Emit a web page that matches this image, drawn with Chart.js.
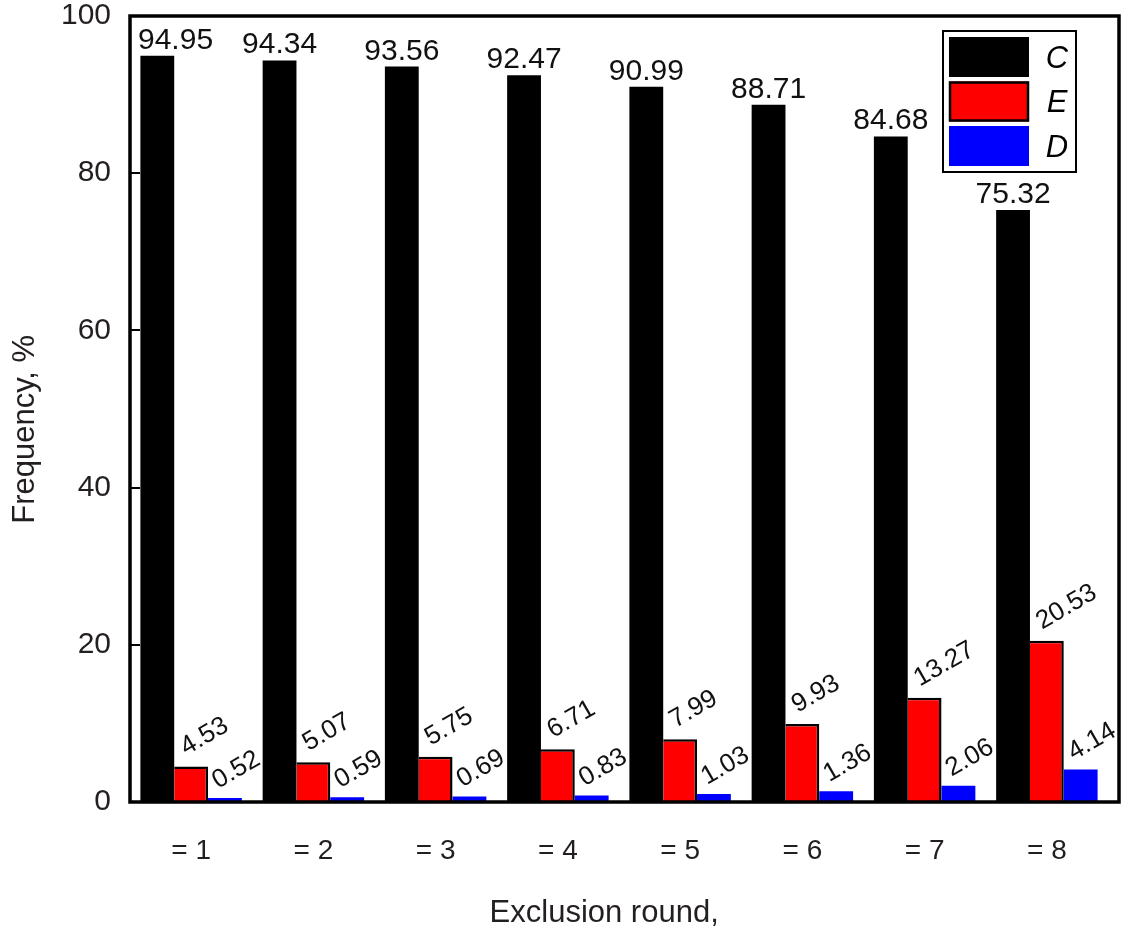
<!DOCTYPE html>
<html>
<head>
<meta charset="utf-8">
<script src="https://cdn.jsdelivr.net/npm/chart.js@4"></script>
<style>
html,body{margin:0;padding:0;background:#fff;}
#wrap{width:1124px;height:933px;position:relative;}
</style>
</head>
<body>
<div id="wrap"><canvas id="c" width="1124" height="933"></canvas></div>
<script>
const categories = ['= 1','= 2','= 3','= 4','= 5','= 6','= 7','= 8'];
const seriesC = [94.95, 94.34, 93.56, 92.47, 90.99, 88.71, 84.68, 75.32];
const seriesE = [4.53, 5.07, 5.75, 6.71, 7.99, 9.93, 13.27, 20.53];
const seriesD = [0.52, 0.59, 0.69, 0.83, 1.03, 1.36, 2.06, 4.14];
const seriesNames = ['C','E','D'];
const yTicks = [0, 20, 40, 60, 80, 100];

const FONT = '"Liberation Sans", Arial, sans-serif';
const TXT = '#231f20';

const decor = {
  id: 'decor',
  afterDatasetsDraw(chart) {
    const ctx = chart.ctx;
    const a = chart.chartArea;
    const ys = chart.scales.y;
    ctx.save();
    // inward y ticks
    ctx.strokeStyle = '#000';
    ctx.lineWidth = 2;
    yTicks.forEach(v => {
      const py = Math.round(ys.getPixelForValue(v));
      ctx.beginPath();
      ctx.moveTo(a.left, py);
      ctx.lineTo(a.left + 10, py);
      ctx.stroke();
    });
    // frame
    ctx.lineWidth = 3.5;
    ctx.strokeRect(a.left, a.top, a.right - a.left, a.bottom - a.top);
    // value labels
    ctx.fillStyle = '#111';
    chart.data.datasets.forEach((ds, di) => {
      const meta = chart.getDatasetMeta(di);
      meta.data.forEach((bar, i) => {
        const txt = ds.data[i].toFixed(2);
        if (di === 0) {
          ctx.font = '30px ' + FONT;
          const w = ctx.measureText(txt).width;
          const cx = Math.max(bar.x, a.left + 8 + w / 2);
          ctx.textAlign = 'center';
          ctx.textBaseline = 'alphabetic';
          ctx.fillText(txt, cx, bar.y - 7);
        } else {
          ctx.font = '26px ' + FONT;
          ctx.save();
          const dx = di === 1 ? 12 : 10;
          const dy = di === 1 ? 11 : 9;
          ctx.translate(bar.x - bar.width / 2 + dx, bar.y - dy);
          ctx.rotate(-Math.PI / 6);
          ctx.textAlign = 'left';
          ctx.textBaseline = 'alphabetic';
          ctx.fillText(txt, 0, 0);
          ctx.restore();
        }
      });
    });
    // legend box
    const lx = 943, ly = 31, lw = 133, lh = 141;
    ctx.fillStyle = '#fff';
    ctx.fillRect(lx, ly, lw, lh);
    ctx.lineWidth = 2;
    ctx.strokeStyle = '#000';
    ctx.strokeRect(lx, ly, lw, lh);
    chart.data.datasets.forEach((ds, di) => {
      const sy = ly + 6 + di * 44.5;
      ctx.fillStyle = ds.backgroundColor;
      ctx.fillRect(lx + 6, sy, 80, 40);
      if (di === 1) {
        ctx.lineWidth = 2.5;
        ctx.strokeStyle = '#000';
        ctx.strokeRect(lx + 7, sy + 1, 78, 38);
      }
      ctx.fillStyle = '#000';
      ctx.font = 'italic 31px ' + FONT;
      ctx.textAlign = 'center';
      ctx.textBaseline = 'middle';
      ctx.fillText(seriesNames[di], lx + 114, sy + 22);
    });
    ctx.restore();
  }
};

new Chart(document.getElementById('c'), {
  type: 'bar',
  data: {
    labels: categories,
    datasets: [
      { label: seriesNames[0], data: seriesC, backgroundColor: '#000000', borderColor: '#000', borderWidth: 0 },
      { label: seriesNames[1], data: seriesE, backgroundColor: '#ff0000', borderColor: '#000', borderWidth: {top: 2.5, right: 2.5, left: 0, bottom: 0} },
      { label: seriesNames[2], data: seriesD, backgroundColor: '#0000ff', borderColor: '#0000ff', borderWidth: 0 }
    ]
  },
  options: {
    responsive: false,
    animation: false,
    plugins: { legend: { display: false }, tooltip: { enabled: false } },
    layout: { padding: { left: 0, right: 5, top: 0, bottom: 0 } },
    datasets: { bar: { categoryPercentage: 0.83, barPercentage: 1.0 } },
    scales: {
      x: {
        grid: { display: false, drawTicks: false },
        border: { display: false },
        afterBuildTicks(s) { s._valueRange = 8.09; },
        ticks: { color: TXT, font: { family: FONT, size: 28 }, padding: 32 },
        title: { display: true, text: 'Exclusion round,    \u2009', color: TXT, font: { family: FONT, size: 31 }, padding: { top: 0, bottom: 1 } },
        afterFit(s) { s.height = 131; s.paddingLeft = 0; s.paddingRight = 0; }
      },
      y: {
        min: 0, max: 100,
        afterBuildTicks(s) { s.ticks = yTicks.map(v => ({ value: v })); },
        grid: { display: false, drawTicks: false },
        border: { display: false },
        ticks: { color: TXT, font: { family: FONT, size: 30 }, padding: 19 },
        title: { display: true, text: 'Frequency, %    \u2009', color: TXT, font: { family: FONT, size: 31 }, padding: { top: 7, bottom: 0 } },
        afterFit(s) { s.width = 130; s.paddingTop = 16; s.paddingBottom = 0; }
      }
    }
  },
  plugins: [decor]
});
</script>
</body>
</html>
